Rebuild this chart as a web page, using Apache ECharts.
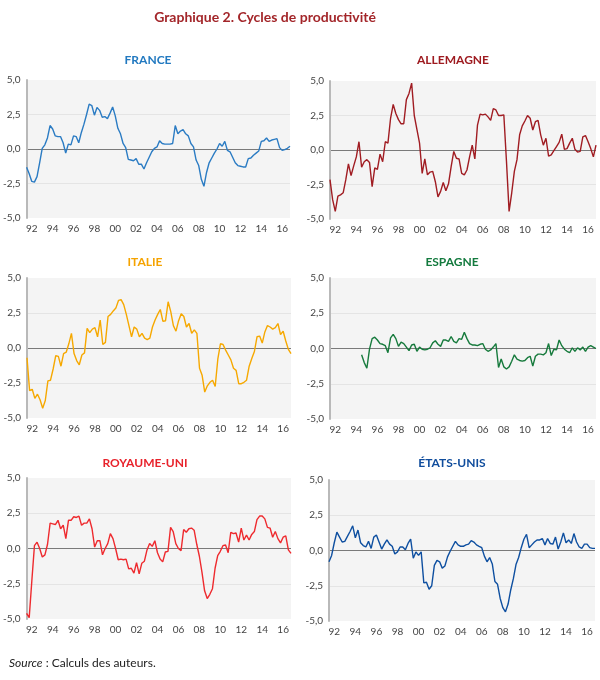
<!DOCTYPE html>
<html><head><meta charset="utf-8">
<script src="https://cdn.jsdelivr.net/npm/echarts@6/dist/echarts.min.js"></script>
<style>html,body{margin:0;padding:0;background:#fff}#c{width:600px;height:680px}</style>
</head><body><div id="c"></div>
<script>
const startYear = 1992;
const nQuarters = 102; // 1992T1 .. 2017T2
const yTicks = [-5, -2.5, 0, 2.5, 5];

const france = [-1.33,-1.8,-2.35,-2.4,-2.0,-1.0,0.05,0.3,0.8,1.7,1.45,0.95,0.9,0.9,0.45,-0.3,0.35,0.3,0.95,0.9,0.45,1.2,1.8,2.5,3.25,3.15,2.45,3.0,2.8,2.3,2.35,2.2,2.6,3.05,2.4,1.5,1.1,0.4,0.1,-0.75,-0.8,-0.85,-0.7,-1.1,-1.1,-1.45,-1.0,-0.6,-0.2,0.05,0.15,0.6,0.4,0.35,0.35,0.35,0.4,1.7,1.1,1.3,1.4,1.1,0.95,0.4,0.15,-0.8,-1.2,-2.2,-2.7,-1.7,-1.0,-0.65,-0.3,0.0,0.4,0.2,0.55,-0.1,-0.2,-0.6,-1.0,-1.2,-1.25,-1.3,-1.3,-0.7,-0.65,-0.45,-0.3,-0.15,0.55,0.6,0.8,0.55,0.65,0.7,0.75,0.1,-0.1,-0.05,0.05,0.2];

const allemagne = [-2.15,-3.6,-4.45,-3.35,-3.25,-3.1,-2.15,-1.0,-1.85,-1.15,-0.5,0.6,-1.25,-0.85,-0.7,-0.9,-2.65,-1.3,-1.4,-0.3,-0.85,0.6,0.5,2.3,3.3,2.65,2.2,1.9,1.9,3.65,4.1,4.85,2.5,1.5,0.5,-1.7,-0.65,-1.8,-1.6,-1.55,-2.3,-3.4,-3.0,-2.35,-2.95,-2.45,-1.2,-0.1,-0.6,-0.65,-1.7,-1.8,-1.45,-0.5,0.35,-0.65,1.8,2.6,2.55,2.6,2.4,2.15,3.0,2.9,2.5,2.5,2.55,-0.8,-4.45,-3.1,-1.55,-0.7,1.1,1.75,2.1,2.5,2.3,1.45,2.05,2.15,1.1,0.35,0.85,-0.45,-0.35,-0.05,0.25,0.55,1.15,0.05,0.1,0.5,0.85,0.05,-0.15,-0.1,0.95,1.05,0.6,0.1,-0.5,0.35];

const italie = [-0.7,-3.05,-2.95,-3.6,-3.3,-3.7,-4.3,-3.75,-2.35,-2.3,-1.5,-0.55,-0.6,-1.3,-0.4,-0.3,0.3,1.05,-0.4,-0.9,-1.2,-0.5,-0.35,1.4,1.1,1.35,1.45,0.8,2.0,0.25,0.4,2.25,2.4,2.65,2.85,3.4,3.45,3.1,2.4,1.6,0.8,1.5,1.35,0.8,1.05,0.7,0.6,0.7,1.5,2.0,2.4,2.75,1.9,1.95,3.3,2.6,1.6,1.2,1.95,2.45,2.25,1.5,1.75,1.05,1.3,1.05,-1.45,-1.95,-3.15,-2.7,-2.45,-2.3,-2.75,-0.8,0.3,0.25,-0.15,-0.5,-0.85,-1.45,-1.6,-2.55,-2.55,-2.45,-2.3,-1.3,-0.75,-0.25,0.8,0.85,0.35,1.15,1.6,1.5,1.35,1.45,1.75,0.95,1.2,0.5,-0.1,-0.4];

const espagne = [null,null,null,null,null,null,null,null,null,null,null,null,-0.45,-1.0,-1.4,-0.05,0.7,0.8,0.6,0.35,0.3,0.2,-0.3,0.75,1.0,0.7,0.15,0.45,0.35,0.1,-0.15,0.25,0.3,-0.2,0.1,-0.05,-0.1,-0.05,0.05,0.4,0.55,0.3,0.15,0.6,0.6,0.5,0.85,0.5,0.4,0.7,0.65,1.15,0.7,0.35,0.25,0.25,0.2,0.3,0.35,-0.05,-0.2,-0.1,0.1,0.35,-1.35,-0.75,-1.3,-1.45,-1.3,-0.9,-0.45,-0.75,-0.85,-0.9,-0.85,-0.65,-0.55,-1.25,-0.55,-0.4,-0.4,-0.45,-0.3,0.35,-0.5,-0.05,-0.1,0.6,0.2,-0.05,-0.2,-0.3,0.05,-0.2,0.05,-0.1,0.1,-0.2,0.1,0.2,0.1,0.0];

const royaumeUni = [-4.6,-4.9,-2.3,0.2,0.45,0.0,-0.6,-0.45,0.3,1.8,1.75,1.7,2.0,1.4,1.65,0.7,2.0,2.0,2.25,2.2,2.3,1.65,1.8,1.8,2.1,1.4,0.1,0.55,0.55,-0.45,0.0,0.35,1.05,0.7,0.0,-0.8,-0.75,-0.8,-0.75,-1.45,-1.4,-1.75,-1.0,-1.8,-1.05,-0.9,-0.1,0.35,0.15,0.55,-0.3,-0.75,-0.95,-0.25,-0.2,1.5,1.2,0.35,0.0,-0.15,1.35,1.15,1.4,1.45,1.3,0.3,-0.55,-1.7,-3.0,-3.55,-3.25,-2.85,-1.4,-0.5,-0.2,0.2,0.25,-0.3,1.15,1.05,1.1,0.45,1.45,0.6,0.95,0.6,1.0,1.2,2.05,2.3,2.3,2.1,1.5,1.45,0.8,1.2,0.7,0.4,0.8,0.9,-0.1,-0.35];

const etatsUnis = [-0.8,-0.35,0.55,1.3,0.95,0.6,0.65,1.0,1.35,1.75,0.9,1.45,0.55,0.35,0.25,0.65,0.15,0.95,1.1,0.6,0.1,0.45,0.75,0.45,0.3,-0.25,-0.1,0.25,0.25,0.05,0.5,0.8,-0.55,-0.1,-0.35,-0.1,-2.3,-2.25,-2.75,-2.5,-1.05,-0.7,-0.8,-1.25,-1.1,-0.45,-0.05,0.3,0.65,0.4,0.3,0.3,0.4,0.45,0.7,0.6,0.4,0.3,0.2,-0.4,-0.8,-0.5,-0.95,-2.2,-2.4,-3.4,-4.05,-4.35,-3.8,-2.8,-2.0,-1.0,-0.5,0.2,0.8,1.15,0.2,0.4,0.6,0.75,0.75,0.85,0.4,0.85,0.5,0.45,0.95,0.1,0.6,1.25,0.55,0.75,0.5,1.2,0.6,0.25,0.15,0.45,0.45,0.2,0.15,0.15];

const panels = [
  {name:'FRANCE', data:france, color:'#2a7bc3', titleColor:'#2279c0'},
  {name:'ALLEMAGNE', data:allemagne, color:'#a01c22', titleColor:'#9e1b20'},
  {name:'ITALIE', data:italie, color:'#f6a800', titleColor:'#f5a300'},
  {name:'ESPAGNE', data:espagne, color:'#167a3c', titleColor:'#137a3e'},
  {name:'ROYAUME-UNI', data:royaumeUni, color:'#ee2a2e', titleColor:'#e8222b'},
  {name:'ÉTATS-UNIS', data:etatsUnis, color:'#0e4fa0', titleColor:'#0f4c9c'}
];

const categories = [];
for (let i = 0; i < nQuarters; i++) {
  categories.push((startYear + Math.floor(i/4)) + 'T' + (i%4+1));
}

const grids = [
  {left:26, top:80, width:264, height:138},
  {left:330, top:81, width:266, height:138},
  {left:27, top:278, width:264, height:140},
  {left:330, top:278, width:266, height:141},
  {left:26, top:478, width:265, height:141},
  {left:329, top:480, width:266, height:141}
];
const titlePos = [[148,60],[453,60],[145,262],[452,262],[145,463],[452,463]];

const font = 'Lato, "Open Sans", sans-serif';
const option = {
  animation:false,
  backgroundColor:'#fff',
  grid: grids.map(g => Object.assign({show:true, backgroundColor:'#f4f4f4', borderWidth:0}, g)),
  xAxis: panels.map((p,k) => ({
    type:'category', gridIndex:k, data:categories, boundaryGap:false,
    axisLine:{show:false}, axisTick:{show:false}, splitLine:{show:false},
    axisLabel:{
      interval:(idx) => idx % 8 === 2,
      formatter:(v) => v.slice(2,4),
      color:'#444', fontSize:10, fontFamily:font, margin:6
    }
  })),
  yAxis: panels.map((p,k) => ({
    type:'value', gridIndex:k, min:yTicks[0], max:yTicks[yTicks.length-1], interval:2.5,
    axisLine:{show:true, lineStyle:{color:'#b9b9b9', width:2}},
    axisTick:{show:false},
    axisLabel:{formatter:(v)=>v.toFixed(1).replace('.',','), color:'#444', fontSize:10, fontFamily:font, margin:6},
    splitLine:{show:true, lineStyle:{color:['rgba(0,0,0,0)','#e4e4e4','#7a7a7a','#e4e4e4','rgba(0,0,0,0)'], width:1}}
  })),
  series: panels.map((p,k) => ({
    type:'line', name:p.name, xAxisIndex:k, yAxisIndex:k, data:p.data,
    showSymbol:false, symbol:'none', connectNulls:false,
    lineStyle:{color:p.color, width:1.4}, itemStyle:{color:p.color}
  })),
  graphic: [
    {type:'text', x:265, y:17, style:{text:'Graphique 2. Cycles de productivité', fill:'#a3262a', font:'bold 14px '+font, align:'center', verticalAlign:'middle'}},
    ...panels.map((p,k)=>({type:'text', x:titlePos[k][0], y:titlePos[k][1], style:{text:p.name, fill:p.titleColor, font:'bold 12px '+font, align:'center', verticalAlign:'middle'}})),
    {type:'text', x:9, y:663, style:{text:'{i|Source} : Calculs des auteurs.', verticalAlign:'middle', font:'12px '+font, fill:'#222',
      rich:{i:{fontStyle:'italic', fontSize:12, fontFamily:font, fill:'#222'}}}}
  ]
};
const chart = echarts.init(document.getElementById('c'));
chart.setOption(option);
</script>
</body></html>
